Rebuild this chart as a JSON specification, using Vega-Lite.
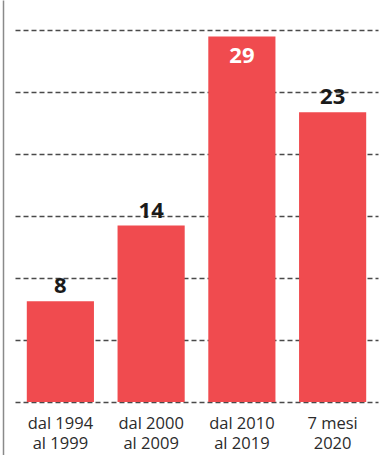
{
  "$schema": "https://vega.github.io/schema/vega-lite/v6.json",
  "width": 363,
  "height": 455,
  "autosize": {"type": "none"},
  "padding": {"left": 15, "right": 9, "top": 0, "bottom": 0},
  "background": "#ffffff",
  "config": {"view": {"stroke": null}, "font": "Open Sans"},
  "data": {
    "values": [
      {"periodo": "dal 1994|al 1999", "n": 8},
      {"periodo": "dal 2000|al 2009", "n": 14},
      {"periodo": "dal 2010|al 2019", "n": 29},
      {"periodo": "7 mesi|2020", "n": 23}
    ]
  },
  "encoding": {
    "x": {
      "field": "periodo",
      "type": "nominal",
      "sort": null,
      "scale": {"paddingInner": 0.26, "paddingOuter": 0.13},
      "axis": {
        "title": null,
        "orient": "bottom",
        "offset": -53,
        "domain": false,
        "ticks": false,
        "labelAngle": 0,
        "labelExpr": "split(datum.label, '|')",
        "labelFontSize": 16.5,
        "labelLineHeight": 20,
        "labelColor": "#2b2b2b",
        "labelPadding": 13,
        "labelFont": "Open Sans"
      }
    },
    "y": {
      "field": "n",
      "type": "quantitative",
      "scale": {"domain": [-4.206, 31.905], "nice": false, "zero": false},
      "axis": {
        "title": null,
        "orient": "left",
        "offset": 12,
        "labels": false,
        "ticks": false,
        "domain": true,
        "domainColor": "#8a8a8a",
        "domainWidth": 1.5,
        "grid": true,
        "values": [0, 4.92, 9.84, 14.76, 19.68, 24.6, 29.52],
        "gridColor": "#4a4a4a",
        "gridWidth": 1.5,
        "gridDash": [5, 3]
      }
    }
  },
  "layer": [
    {
      "mark": {"type": "bar", "color": "#F04B4F"},
      "encoding": {"y2": {"datum": 0}}
    },
    {
      "transform": [{"filter": "datum.n < 25"}],
      "mark": {"type": "text", "baseline": "alphabetic", "dy": -8, "fontSize": 22, "fontWeight": "bold", "color": "#1a1a1a", "font": "Open Sans"},
      "encoding": {"text": {"field": "n", "type": "quantitative"}}
    },
    {
      "transform": [{"filter": "datum.n >= 25"}],
      "mark": {"type": "text", "baseline": "alphabetic", "dy": 26, "fontSize": 22, "fontWeight": "bold", "color": "#ffffff", "font": "Open Sans"},
      "encoding": {"text": {"field": "n", "type": "quantitative"}}
    }
  ]
}
